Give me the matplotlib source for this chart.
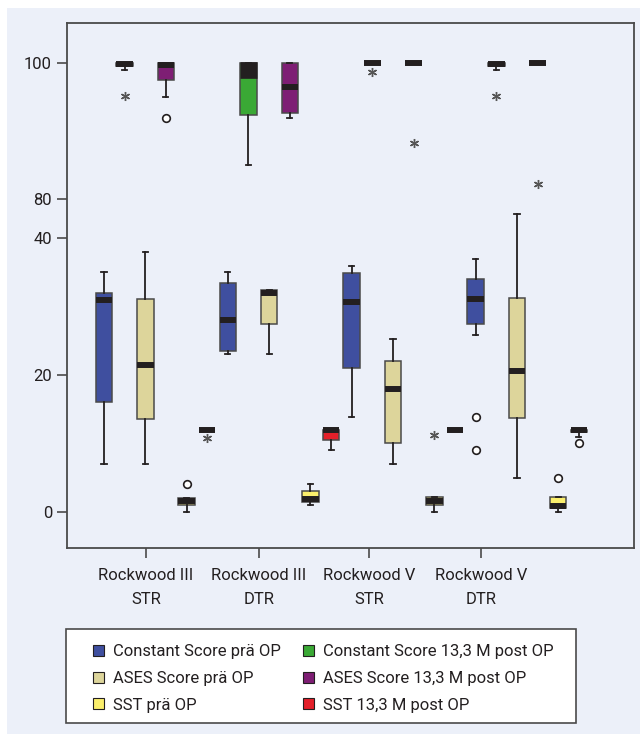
import numpy as np
import matplotlib
matplotlib.use("Agg")
import matplotlib.pyplot as plt
from matplotlib.patches import Rectangle

plt.rcParams['font.family'] = ['Roboto', 'DejaVu Sans']

groups = ["Rockwood III\nSTR", "Rockwood III\nDTR", "Rockwood V\nSTR", "Rockwood V\nDTR"]
series = ["Constant Score prä OP", "Constant Score 13,3 M post OP",
          "ASES Score prä OP", "ASES Score 13,3 M post OP",
          "SST prä OP", "SST 13,3 M post OP"]
colors = ["#3f4f9f", "#3aa935", "#ddd59b", "#7e1e74", "#fbef6c", "#e3202a"]

# whislo, q1, med, q3, whishi  (one row per group)
const_pre = [[7.0, 16.0, 31.0, 32.0, 35.0],
             [23.0, 23.5, 28.1, 33.5, 35.0],
             [13.9, 21.0, 30.6, 34.9, 36.0],
             [25.9, 27.5, 31.1, 34.0, 37.0]]
const_post = [[98.9, 99.5, 99.8, 100.0, 100.0],
              [85.0, 92.3, 99.0, 100.0, 100.0],
              [100.0, 100.0, 100.0, 100.0, 100.0],
              [98.9, 99.5, 99.8, 100.0, 100.0]]
ases_pre = [[7.0, 13.6, 21.5, 31.1, 38.0],
            [23.1, 27.4, 32.0, 32.4, 32.4],
            [7.0, 10.0, 17.9, 22.0, 25.2],
            [5.0, 13.7, 20.6, 31.2, 43.6]]
ases_post = [[95.0, 97.4, 99.7, 100.0, 100.0],
             [91.9, 92.6, 96.5, 100.0, 100.0],
             [100.0, 100.0, 100.0, 100.0, 100.0],
             [100.0, 100.0, 100.0, 100.0, 100.0]]
sst_pre = [[0.0, 1.0, 1.5, 2.0, 2.0],
           [1.0, 1.4, 1.9, 3.1, 4.0],
           [0.0, 1.0, 1.5, 2.1, 2.1],
           [0.0, 0.5, 0.9, 2.2, 2.2]]
sst_post = [[12.0, 12.0, 12.0, 12.0, 12.0],
            [9.1, 10.5, 12.0, 12.0, 12.0],
            [12.0, 12.0, 12.0, 12.0, 12.0],
            [11.0, 11.6, 12.0, 12.0, 12.0]]

# (series, group, value, kind)  o = outlier, * = extreme
outliers = [(1, 0, 95.1, '*'), (3, 0, 91.9, 'o'), (4, 0, 4.0, 'o'), (5, 0, 10.8, '*'),
            (1, 2, 98.7, '*'), (3, 2, 88.2, '*'), (4, 2, 11.2, '*'),
            (0, 3, 13.9, 'o'), (0, 3, 9.0, 'o'), (1, 3, 95.1, '*'), (3, 3, 82.3, '*'),
            (4, 3, 5.0, 'o'), (5, 3, 10.0, 'o')]

all_stats = [const_pre, const_post, ases_pre, ases_post, sst_pre, sst_post]

# broken y axis: 40 -> 80 jump
GAP = 5.66
def ypos(v):
    v = np.asarray(v, dtype=float)
    return np.where(v > 60, v - 80 + 40 + GAP, v)

bg = "#ecf0f9"
dark = "#231f20"
edge = "#4a4a4a"

fig = plt.figure(figsize=(6.4, 7.34), dpi=100)
fig.patch.set_facecolor("white")
fig.patches.append(Rectangle((7 / 640, 0), 1, 1 - 8 / 734, transform=fig.transFigure,
                             facecolor=bg, edgecolor="none", zorder=-10))

ax = fig.add_axes([67 / 640, (734 - 548) / 734, (634 - 67) / 640, (548 - 23) / 734])
ax.set_facecolor(bg)

nser = len(series)
for s, stats in enumerate(all_stats):
    bxs = []
    for g, (lo, q1, med, q3, hi) in enumerate(stats):
        lo, q1, med, q3, hi = ypos([lo, q1, med, q3, hi])
        bxs.append(dict(whislo=lo, q1=q1, med=med, q3=q3, whishi=hi, fliers=[]))
    pos = [g * nser + s for g in range(len(groups))]
    bp = ax.bxp(bxs, positions=pos, widths=0.8, capwidths=0.25, patch_artist=True,
                showfliers=False,
                boxprops=dict(facecolor=colors[s], edgecolor=edge, linewidth=1.1),
                whiskerprops=dict(color=dark, linewidth=1.3),
                capprops=dict(color=dark, linewidth=1.3),
                medianprops=dict(color=dark, linewidth=4.3, solid_capstyle='butt'))
    if s == 1:
        # wide dark band at the top of the DTR constant score box
        bp['medians'][1].set_linewidth(12)

for s, g, v, kind in outliers:
    x = g * nser + s
    if kind == 'o':
        ax.plot(x, ypos(v), 'o', ms=5.5, mfc='white', mec=dark, mew=1.2)
    else:
        ax.plot(x, ypos(v), marker=(6, 2, 0), ms=6.5, color='#555555', mew=1.0)

ax.set_xlim(-1.79, 25.67)
ax.set_ylim(-5.3, 71.46)
ax.set_yticks(ypos([0, 20, 40, 80, 100]))
ax.set_yticklabels(["0", "20", "40", "80", "100"])
ax.set_xticks([2.03, 7.5, 12.83, 18.26])
ax.set_xticklabels(groups, linespacing=1.75)
ax.tick_params(axis='both', length=7.2, width=1.2, color=edge, labelsize=12, labelcolor=dark)
ax.tick_params(axis='y', pad=3.6)
ax.tick_params(axis='x', pad=7.5)
for sp in ax.spines.values():
    sp.set_color(edge)
    sp.set_linewidth(1.3)

# legend box
fig.patches.append(Rectangle((66 / 640, 1 - 723 / 734), (576 - 66) / 640, (723 - 629) / 734,
                             transform=fig.transFigure, facecolor="white",
                             edgecolor=edge, linewidth=1.2, zorder=5))
order = [0, 2, 4, 1, 3, 5]
handles = [Rectangle((0, 0), 1, 1, facecolor=colors[i], edgecolor=dark, linewidth=0.8) for i in order]
labels = [series[i] for i in order]
leg = fig.legend(handles, labels, ncol=2, frameon=False, fontsize=12,
                 loc='upper left', bbox_to_anchor=(85 / 640, 1 - 636 / 734),
                 handlelength=0.65, handleheight=0.65, handletextpad=0.55,
                 labelspacing=0.7, columnspacing=1.3, borderpad=0)
leg.set_zorder(6)
for t in leg.get_texts():
    t.set_color(dark)

fig.savefig("out.png", dpi=100)
